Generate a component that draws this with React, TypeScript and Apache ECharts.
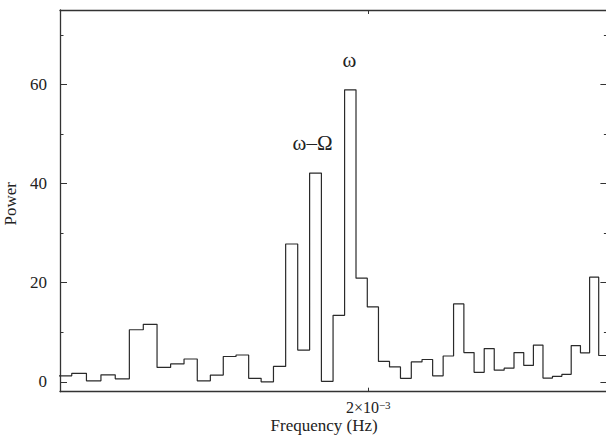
import React, { useEffect, useRef } from 'react';
import * as echarts from 'echarts';

// Power spectrum: uniform frequency bins drawn on a logarithmic frequency axis
const binStartHz = 1.4956e-3;
const binWidthHz = 2.094e-5;
const power = [
  1.2, 1.7, 0.2, 1.4, 0.6, 10.5, 11.6, 2.9, 3.6, 4.6, 0.2, 1.35,
  5.1, 5.4, 0.7, 0.0, 3.1, 27.8, 6.4, 42.1, 0.1, 13.4, 58.9, 20.9,
  15.1, 4.1, 3.0, 0.7, 4.0, 4.5, 1.2, 5.2, 15.7, 5.9, 1.9, 6.7,
  2.35, 2.75, 5.9, 3.3, 7.4, 0.75, 1.1, 1.5, 7.3, 5.85, 21.1, 5.3,
];
const freqRange = [1.5e-3, 2.5e-3];
const powerRange = [-2, 75];
const xTicks = [2e-3];
const xTickMantissa = ['2×10'];
const xTickExponent = ['−3'];
const yMajorTicks = [0, 20, 40, 60];
const yMinorTicks = [10, 30, 50, 70];
const peakLabels = [
  { text: 'ω–Ω', bin: 19, dx: -3 },
  { text: 'ω', bin: 22, dx: -1 },
];

const FONT = 'Liberation Serif';
const INK = '#222';

export default function App() {
  const ref = useRef<HTMLDivElement>(null);

  useEffect(() => {
    if (!ref.current) return;
    const chart = echarts.init(ref.current, undefined, { renderer: 'svg' });

    const stepData: number[][] = power.map((v, j) => [binStartHz + j * binWidthHz, v]);
    stepData.push([binStartHz + power.length * binWidthHz, power[power.length - 1]]);

    const logMin = Math.log10(freqRange[0]);
    const logMax = Math.log10(freqRange[1]);
    const logTicks = xTicks.map((f) => Math.log10(f));

    const tickAxisBase = {
      type: 'value',
      min: logMin,
      max: logMax,
      splitLine: { show: false },
    };
    const frameLine = { show: true, onZero: false, lineStyle: { color: '#333', width: 1.3 } };
    const noLine = { show: false, onZero: false };

    const option: any = {
      animation: false,
      backgroundColor: '#fff',
      grid: {
        left: 60, top: 10, right: -1.4, bottom: 43.3,
        containLabel: false, outerBoundsMode: 'none',
      },
      xAxis: [
        {
          type: 'log',
          logBase: 10,
          min: freqRange[0],
          max: freqRange[1],
          position: 'bottom',
          axisLine: frameLine,
          axisTick: { show: false },
          axisLabel: { show: false },
          splitLine: { show: false },
          name: 'Frequency (Hz)',
          nameLocation: 'middle',
          nameGap: 25,
          nameTextStyle: {
            fontFamily: FONT, fontSize: 17, lineHeight: 17, color: INK, padding: [0, 19, 0, 0],
          },
        },
        {
          ...tickAxisBase,
          position: 'bottom',
          axisLine: noLine,
          axisTick: {
            show: true, inside: true, length: 4, customValues: logTicks,
            lineStyle: { color: '#333', width: 1 },
          },
          axisLabel: {
            show: true,
            customValues: logTicks,
            margin: 8,
            formatter: (v: number) => {
              const i = logTicks.findIndex((t) => Math.abs(t - v) < 1e-9);
              const k = i < 0 ? 0 : i;
              return `{m|${xTickMantissa[k]}}{s|${xTickExponent[k]}}`;
            },
            rich: {
              m: { fontFamily: FONT, fontSize: 16, color: INK, lineHeight: 16, verticalAlign: 'bottom' },
              s: { fontFamily: FONT, fontSize: 11, color: INK, lineHeight: 11, verticalAlign: 'top' },
            },
          },
        },
        {
          ...tickAxisBase,
          position: 'top',
          axisLine: frameLine,
          axisTick: {
            show: true, inside: true, length: 4, customValues: logTicks,
            lineStyle: { color: '#333', width: 1 },
          },
          axisLabel: { show: false },
        },
      ],
      yAxis: [
        {
          type: 'value',
          min: powerRange[0],
          max: powerRange[1],
          position: 'left',
          splitLine: { show: false },
          axisLine: frameLine,
          axisTick: {
            show: true, inside: true, length: 7, customValues: yMajorTicks,
            lineStyle: { color: '#333', width: 1 },
          },
          axisLabel: {
            show: true, customValues: yMajorTicks, margin: 13,
            fontFamily: FONT, fontSize: 17, color: INK,
          },
          name: 'Power',
          nameLocation: 'middle',
          nameGap: 38,
          nameTextStyle: { fontFamily: FONT, fontSize: 17, color: INK, padding: [0, 6, 0, 0] },
        },
        {
          type: 'value',
          min: powerRange[0],
          max: powerRange[1],
          position: 'left',
          splitLine: { show: false },
          axisLine: noLine,
          axisTick: {
            show: true, inside: true, length: 3.5, customValues: yMinorTicks,
            lineStyle: { color: '#333', width: 1 },
          },
          axisLabel: { show: false },
        },
        {
          type: 'value',
          min: powerRange[0],
          max: powerRange[1],
          position: 'right',
          splitLine: { show: false },
          axisLine: frameLine,
          axisTick: {
            show: true, inside: true, length: 7, customValues: yMajorTicks,
            lineStyle: { color: '#333', width: 1 },
          },
          axisLabel: { show: false },
        },
        {
          type: 'value',
          min: powerRange[0],
          max: powerRange[1],
          position: 'right',
          splitLine: { show: false },
          axisLine: noLine,
          axisTick: {
            show: true, inside: true, length: 3.5, customValues: yMinorTicks,
            lineStyle: { color: '#333', width: 1 },
          },
          axisLabel: { show: false },
        },
      ],
      series: [
        {
          type: 'line',
          step: 'end',
          xAxisIndex: 0,
          yAxisIndex: 0,
          data: stepData,
          showSymbol: false,
          symbol: 'none',
          clip: true,
          lineStyle: { color: '#2a2a2a', width: 1.2 },
          markPoint: {
            symbol: 'rect',
            symbolSize: 1,
            itemStyle: { color: 'rgba(0,0,0,0)' },
            label: {
              show: true,
              position: 'top',
              distance: 19,
              fontFamily: FONT,
              fontSize: 21,
              color: INK,
            },
            data: peakLabels.map((p) => ({
              coord: [binStartHz + (p.bin + 0.5) * binWidthHz, power[p.bin]],
              label: { formatter: p.text, offset: [p.dx, 0] },
            })),
          },
        },
      ],
    };

    chart.setOption(option);
    return () => chart.dispose();
  }, []);

  return (
    <div
      ref={ref}
      style={{ position: 'absolute', left: 0, top: 0, width: 606, height: 435 }}
    />
  );
}
